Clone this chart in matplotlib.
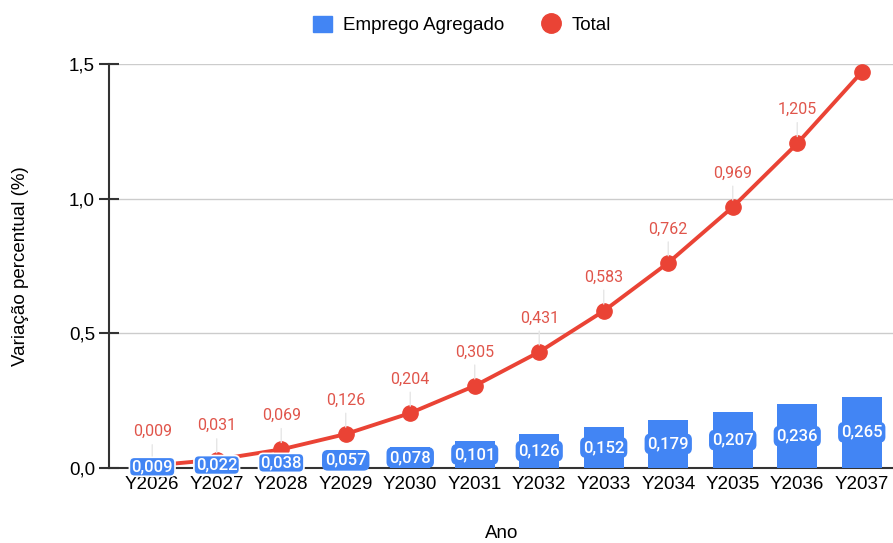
import matplotlib.pyplot as plt
from matplotlib.lines import Line2D
from matplotlib.patches import Patch
import numpy as np

anos = ["Y2026", "Y2027", "Y2028", "Y2029", "Y2030", "Y2031",
        "Y2032", "Y2033", "Y2034", "Y2035", "Y2036", "Y2037"]
emprego_agregado = [0.009, 0.022, 0.038, 0.057, 0.078, 0.101,
                    0.126, 0.152, 0.179, 0.207, 0.236, 0.265]
total = [0.009, 0.031, 0.069, 0.126, 0.204, 0.305,
         0.431, 0.583, 0.762, 0.969, 1.205, 1.47]
# the last point of the line has no label in the chart
total_labels = [True] * 11 + [False]

AZUL = "#4285F4"
VERMELHO = "#EA4335"
VERM_TEXTO = "#E0554B"


def fmt(v):
    return f"{v:.3f}".replace(".", ",")


plt.rcParams["font.family"] = ["Liberation Sans", "DejaVu Sans"]

fig = plt.figure(figsize=(8.93, 5.43), dpi=100)
ax = fig.add_axes([109 / 893, 75 / 543, 785 / 893, 404 / 543])

x = np.arange(len(anos))

bars = ax.bar(x, emprego_agregado, width=0.62, color=AZUL, zorder=2)
for rect, v in zip(bars, emprego_agregado):
    ax.text(rect.get_x() + rect.get_width() / 2, v / 2, fmt(v),
            ha="center", va="center", color="white", fontsize=12,
            family="Roboto", fontweight="medium", zorder=5,
            bbox=dict(boxstyle="round,pad=0.12,rounding_size=0.3",
                      fc=AZUL, ec="white" if v < 0.05 else AZUL, lw=1.2))

ax.plot(x, total, color=VERMELHO, lw=2.8, marker="o", markersize=11,
        zorder=3, solid_capstyle="round")

for xi, v, show in zip(x, total, total_labels):
    if not show:
        continue
    ax.annotate(fmt(v), xy=(xi, v), xytext=(0, 19), textcoords="offset points",
                ha="center", va="bottom", color=VERM_TEXTO, fontsize=11.5,
                family="Roboto", zorder=4,
                arrowprops=dict(arrowstyle="-", color="#e6e6e6", lw=1,
                                shrinkA=2, shrinkB=5))

ax.set_xlim(-0.67, 11.5)
ax.set_ylim(0, 1.5)
ax.set_yticks([0, 0.5, 1.0, 1.5])
ax.set_yticklabels(["0,0", "0,5", "1,0", "1,5"])
ax.set_xticks(x)
ax.set_xticklabels(anos)
ax.tick_params(axis="y", direction="inout", length=14, width=1.5,
               color="#333333", labelsize=13.5, pad=3)
ax.tick_params(axis="x", length=0, labelsize=13.5, pad=6)
ax.yaxis.grid(True, color="#cccccc", lw=1, zorder=0)
ax.set_axisbelow(True)

for s in ["top", "right"]:
    ax.spines[s].set_visible(False)
ax.spines["left"].set_color("#333333")
ax.spines["left"].set_linewidth(1.5)
ax.spines["bottom"].set_color("#333333")
ax.spines["bottom"].set_linewidth(1.5)
ax.spines["bottom"].set_zorder(1)

ax.set_ylabel("Variação percentual (%)", fontsize=13.5, labelpad=29)
ax.set_xlabel("Ano", fontsize=13.5, labelpad=23)

handles = [
    Patch(facecolor=AZUL, edgecolor=AZUL, label="Emprego Agregado"),
    Line2D([], [], color=VERMELHO, marker="o", linestyle="none",
           markersize=14, label="Total"),
]
fig.legend(handles=handles, loc="center", bbox_to_anchor=(462 / 893, 1 - 25 / 543),
           ncol=2, frameon=False, fontsize=13.5, handlelength=1.0,
           handleheight=1.0, handletextpad=0.6, columnspacing=2.0)

fig.savefig("out.png", dpi=100)
